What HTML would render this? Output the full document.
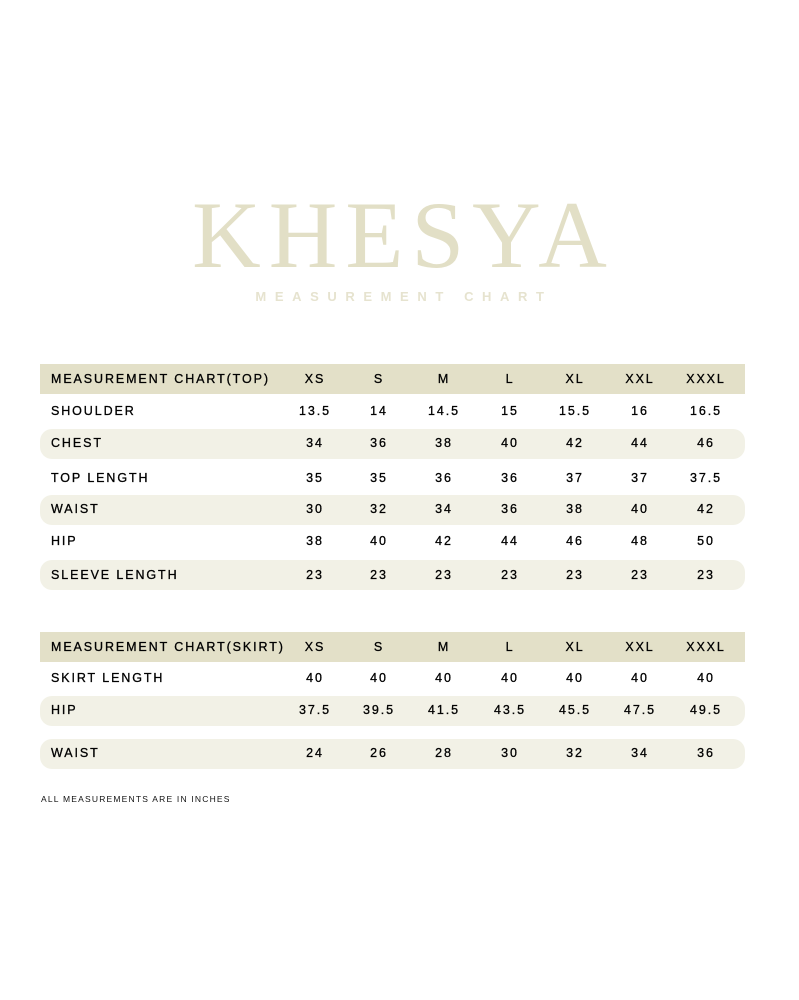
<!DOCTYPE html>
<html><head><meta charset="utf-8"><style>
body{margin:0;background:#fff;width:799px;height:1000px;position:relative;overflow:hidden;font-family:"Liberation Sans",sans-serif;color:#111}
.logo{position:absolute;left:0;width:799px;top:188px;text-align:center;font-family:"Liberation Serif",serif;font-size:95px;line-height:95px;color:#e2dfc6;letter-spacing:8px;padding-left:8px;box-sizing:border-box}
.sub{position:absolute;left:0;width:799px;top:289px;text-align:center;font-size:13px;letter-spacing:8.6px;color:#e6e3cf;font-weight:bold;padding-left:9px;box-sizing:border-box}
.band{position:absolute;left:40px;width:705px;height:30px}
.hd{background:#e3e0c8}
.alt{background:#f2f1e6;border-radius:12px}
.row{position:absolute;left:0;width:799px;height:20px;font-size:12.5px;letter-spacing:1.9px;color:#000;-webkit-text-stroke:0.3px #000}
.row span{position:absolute;top:0;line-height:20px}
.row .l{left:51px}
.row .c{transform:translateX(-50%);text-align:center}
.foot{position:absolute;left:41px;top:794px;font-size:8.5px;letter-spacing:1.2px}
</style></head><body>
<div class="logo">KHESYA</div>
<div class="sub">MEASUREMENT CHART</div>

<div class="band hd" style="top:364px"></div>
<div class="band alt" style="top:429px"></div>
<div class="band alt" style="top:495px"></div>
<div class="band alt" style="top:560px"></div>
<div class="band hd" style="top:632px"></div>
<div class="band alt" style="top:696px"></div>
<div class="band alt" style="top:739px"></div>

<div id="rows"></div>
<div class="foot">ALL MEASUREMENTS ARE IN INCHES</div>
<script>
var xs=[314,378,443,509,574,639,705];
var data=[
[379,"MEASUREMENT CHART(TOP)",["XS","S","M","L","XL","XXL","XXXL"]],
[411,"SHOULDER",["13.5","14","14.5","15","15.5","16","16.5"]],
[443,"CHEST",["34","36","38","40","42","44","46"]],
[478,"TOP LENGTH",["35","35","36","36","37","37","37.5"]],
[509,"WAIST",["30","32","34","36","38","40","42"]],
[541,"HIP",["38","40","42","44","46","48","50"]],
[575,"SLEEVE LENGTH",["23","23","23","23","23","23","23"]],
[647,"MEASUREMENT CHART(SKIRT)",["XS","S","M","L","XL","XXL","XXXL"]],
[678,"SKIRT LENGTH",["40","40","40","40","40","40","40"]],
[710,"HIP",["37.5","39.5","41.5","43.5","45.5","47.5","49.5"]],
[753,"WAIST",["24","26","28","30","32","34","36"]]];
var h="";
data.forEach(function(r){h+='<div class="row" style="top:'+(r[0]-10)+'px"><span class="l">'+r[1]+'</span>';
r[2].forEach(function(v,i){h+='<span class="c" style="left:'+(xs[i]+1)+'px">'+v+'</span>';});h+='</div>';});
document.getElementById("rows").innerHTML=h;
</script>
</body></html>
